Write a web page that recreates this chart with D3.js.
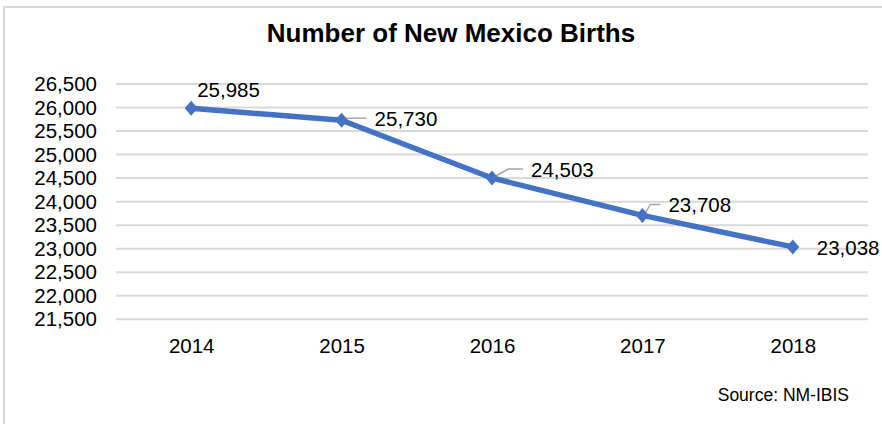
<!DOCTYPE html>
<html>
<head>
<meta charset="utf-8">
<script src="https://cdn.jsdelivr.net/npm/d3@7.9.0/dist/d3.min.js"></script>
<style>
  html, body { margin: 0; padding: 0; background: #fff; }
  text { font-family: "Liberation Sans", Arial, sans-serif; fill: #000; }
</style>
</head>
<body>
<div id="chart"></div>
<script>
const years = ['2014', '2015', '2016', '2017', '2018'];
const births = [25985, 25730, 24503, 23708, 23038];
const yTicks = [21500, 22000, 22500, 23000, 23500, 24000, 24500, 25000, 25500, 26000, 26500];

// where Excel left each data label, relative to its point
const labelOffsets = [[6, -11], [33, 6], [39, -1], [26, -3], [24, 8]];
const hasLeader = [false, true, true, true, false];

const width = 882;
const height = 424;

const plot = { left: 116, right: 868, top: 84, bottom: 319.3 };

const svg = d3.select('#chart')
  .append('svg')
  .attr('width', width)
  .attr('height', height);

// chart border
svg.append('rect')
  .attr('x', 4).attr('y', 7)
  .attr('width', width + 10).attr('height', height + 10)
  .attr('fill', 'none')
  .attr('stroke', '#d9d9d9')
  .attr('stroke-width', 2);

svg.append('text')
  .attr('x', 451)
  .attr('y', 42)
  .attr('text-anchor', 'middle')
  .style('font-size', '26px')
  .style('font-weight', 'bold')
  .text('Number of New Mexico Births');

const x = d3.scalePoint()
  .domain(years)
  .range([plot.left, plot.right])
  .padding(0.5);

const y = d3.scaleLinear()
  .domain([21500, 26500])
  .range([plot.bottom, plot.top]);

// gridlines
svg.append('g')
  .selectAll('line')
  .data(yTicks)
  .join('line')
  .attr('x1', plot.left).attr('x2', plot.right)
  .attr('y1', d => y(d)).attr('y2', d => y(d))
  .attr('stroke', '#d9d9d9')
  .attr('stroke-width', 2);

const yAxis = svg.append('g')
  .attr('transform', `translate(${plot.left - 19},0)`)
  .call(d3.axisLeft(y).tickValues(yTicks).tickFormat(d3.format(',')).tickSize(0).tickPadding(0));
yAxis.select('.domain').remove();
yAxis.selectAll('text').style('font-size', '20.5px');

const xAxis = svg.append('g')
  .attr('transform', `translate(0,${plot.bottom})`)
  .call(d3.axisBottom(x).tickSize(0).tickPadding(0));
xAxis.select('.domain').remove();
xAxis.selectAll('text')
  .attr('dy', null)
  .attr('y', 34)
  .style('font-size', '20.5px');

const line = d3.line()
  .x((d, i) => x(years[i]))
  .y(d => y(d));

svg.append('path')
  .datum(births)
  .attr('d', line)
  .attr('fill', 'none')
  .attr('stroke', '#4472c4')
  .attr('stroke-width', 5.5)
  .attr('stroke-linejoin', 'round');

// leader lines
svg.append('g')
  .selectAll('path')
  .data(births.map((d, i) => ({ d, i })).filter(o => hasLeader[o.i]))
  .join('path')
  .attr('d', o => {
    const px = x(years[o.i]), py = y(o.d);
    const tx = px + labelOffsets[o.i][0], ty = py + labelOffsets[o.i][1];
    const ly = ty - 8;
    const ex = tx - 8;
    const kx = Math.min(ex - 10, px + (py - ly) * 1.8);
    return `M${px + 2},${py - 1}L${kx},${ly}L${ex},${ly}`;
  })
  .attr('fill', 'none')
  .attr('stroke', '#a6a6a6')
  .attr('stroke-width', 1.5);

svg.append('g')
  .selectAll('path')
  .data(births)
  .join('path')
  .attr('transform', (d, i) => `translate(${x(years[i])},${y(d)})`)
  .attr('d', 'M0,-7.5L6.5,0L0,7.5L-6.5,0Z')
  .attr('fill', '#4472c4');

svg.append('g')
  .selectAll('text')
  .data(births)
  .join('text')
  .attr('x', (d, i) => x(years[i]) + labelOffsets[i][0])
  .attr('y', (d, i) => y(d) + labelOffsets[i][1])
  .style('font-size', '20.5px')
  .text(d => d3.format(',')(d));

svg.append('text')
  .attr('x', 849)
  .attr('y', 401)
  .attr('text-anchor', 'end')
  .style('font-size', '17.5px')
  .text('Source: NM-IBIS');
</script>
</body>
</html>
